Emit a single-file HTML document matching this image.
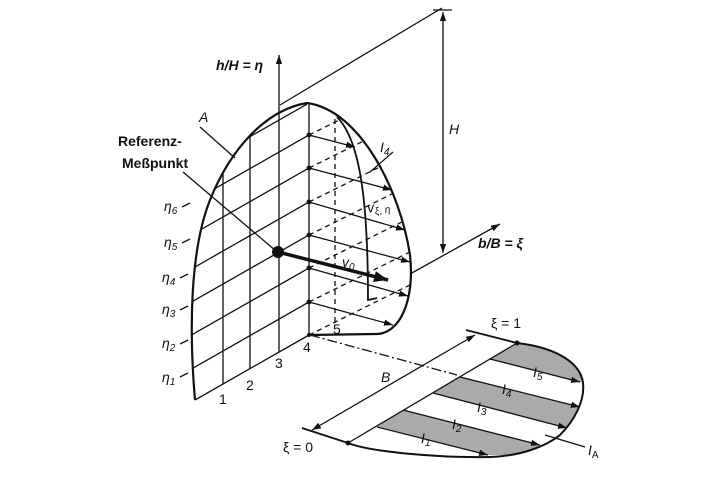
<!DOCTYPE html>
<html><head><meta charset="utf-8"><style>
html,body{margin:0;padding:0;background:#fff}
svg{display:block}
text{font-family:"Liberation Sans",sans-serif;font-size:14px;fill:#111}
.i{font-style:italic}
</style></head><body>
<svg width="720" height="480" viewBox="0 0 720 480">
<defs>
<clipPath id="L"><path d="M195,400 C189,330 190,250 210,200 C230,150 265,110 307,103 L309,335 Z"/></clipPath>
<clipPath id="R"><path d="M307,103 C360,110 400,190 410,255 C415,300 400,335 375,334 L309,335 Z"/></clipPath>
<clipPath id="B"><path d="M348,443 C370,452 440,458 490,457 C520,456 545,447 560,435 C575,420 585,400 583,383 C581,365 560,348 517,343 Z"/></clipPath>
<marker id="a" viewBox="0 0 10 10" refX="10" refY="5" markerWidth="9" markerHeight="9" orient="auto-start-reverse" markerUnits="userSpaceOnUse"><path d="M0,1.5 L10,5 L0,8.5 Z" fill="#111"/></marker>
<marker id="b" viewBox="0 0 10 10" refX="10" refY="5" markerWidth="14" markerHeight="14" orient="auto" markerUnits="userSpaceOnUse"><path d="M0,1 L10,5 L0,9 Z" fill="#111"/></marker>
</defs>
<g stroke="#111" fill="none" stroke-width="1.3">
<line x1="280" y1="105" x2="442" y2="8"/>
<line x1="433" y1="10" x2="452" y2="10"/>
<line x1="443" y1="12" x2="443" y2="253" marker-start="url(#a)" marker-end="url(#a)"/>
<line x1="410" y1="274" x2="500" y2="224" marker-end="url(#a)"/>
<line x1="279" y1="352" x2="279" y2="55" marker-end="url(#a)"/>
<g clip-path="url(#L)">
<line x1="180" y1="375.5" x2="309" y2="302"/>
<line x1="180" y1="341.5" x2="309" y2="268"/>
<line x1="180" y1="308.5" x2="309" y2="235"/>
<line x1="180" y1="275.5" x2="309" y2="202"/>
<line x1="180" y1="241.5" x2="309" y2="168"/>
<line x1="180" y1="208.5" x2="309" y2="135"/>
<line x1="180" y1="176.5" x2="309" y2="103"/>
<line x1="223" y1="100" x2="223" y2="385"/>
<line x1="250" y1="100" x2="250" y2="369"/>
</g>
<line x1="195" y1="400" x2="309" y2="335"/>
<line x1="309" y1="103" x2="309" y2="335"/>
<g clip-path="url(#R)" stroke-dasharray="5,4">
<line x1="309" y1="335" x2="420" y2="280"/>
<line x1="309" y1="302" x2="420" y2="247"/>
<line x1="309" y1="268" x2="420" y2="213"/>
<line x1="309" y1="235" x2="420" y2="180"/>
<line x1="309" y1="202" x2="420" y2="147"/>
<line x1="309" y1="168" x2="420" y2="113"/>
<line x1="309" y1="135" x2="420" y2="80"/>
<line x1="335" y1="110" x2="335" y2="322"/>
</g>
<path stroke-width="2.2" d="M195,400 C189,330 190,250 210,200 C230,150 265,110 307,103 C360,110 400,190 410,255 C415,300 400,335 375,334 L309,335"/>
<path stroke-width="1.8" d="M337,117 C360,140 368,200 368,300 L377,298"/>
<line x1="309" y1="135" x2="355" y2="147" marker-end="url(#a)"/>
<line x1="309" y1="168" x2="392" y2="190" marker-end="url(#a)"/>
<line x1="309" y1="202" x2="405" y2="230" marker-end="url(#a)"/>
<line x1="309" y1="235" x2="410" y2="262" marker-end="url(#a)"/>
<line x1="309" y1="268" x2="408" y2="296" marker-end="url(#a)"/>
<line x1="309" y1="302" x2="393" y2="325" marker-end="url(#a)"/>
<line x1="278" y1="252" x2="388" y2="280" stroke-width="3.5" marker-end="url(#b)"/>
<line x1="183" y1="172" x2="276" y2="251"/>
<line x1="200" y1="127" x2="235" y2="158"/>
<line x1="393" y1="152" x2="370" y2="172"/>
<line x1="182" y1="207" x2="190" y2="203"/><line x1="182" y1="243" x2="190" y2="239"/>
<line x1="180" y1="278" x2="188" y2="274"/><line x1="180" y1="310" x2="188" y2="306"/>
<line x1="180" y1="344" x2="188" y2="340"/><line x1="180" y1="377" x2="188" y2="373"/>
<line x1="310" y1="335" x2="457" y2="375" stroke-dasharray="10,3,2,3"/>
<g clip-path="url(#B)" fill="#aaa" stroke="none">
<path d="M517,343 L490,359 L580,382 L600,382 L600,330 Z"/>
<path d="M460,377 L433,393 L567,428 L600,428 L600,407 L580,407 Z"/>
<path d="M403,410 L377,427 L488,455 L560,455 L540,445 Z"/>
</g>
<line x1="312" y1="430" x2="475" y2="335" marker-start="url(#a)" marker-end="url(#a)"/>
<line x1="466" y1="330" x2="517" y2="343" stroke-width="1.8"/>
<line x1="302" y1="428" x2="348" y2="443" stroke-width="1.8"/>
<line x1="348" y1="443" x2="517" y2="343"/>
<path stroke-width="2" d="M348,443 C370,452 440,458 490,457 C520,456 545,447 560,435 C575,420 585,400 583,383 C581,365 560,348 517,343"/>
<line x1="490" y1="359" x2="580" y2="382" marker-end="url(#a)"/>
<line x1="460" y1="377" x2="580" y2="407" marker-end="url(#a)"/>
<line x1="433" y1="393" x2="567" y2="428" marker-end="url(#a)"/>
<line x1="403" y1="410" x2="540" y2="445" marker-end="url(#a)"/>
<line x1="377" y1="427" x2="488" y2="455" marker-end="url(#a)"/>
<line x1="545" y1="435" x2="585" y2="447"/>
</g>
<g fill="#111">
<circle cx="278" cy="252" r="6"/>
<circle cx="309" cy="135" r="2.5"/><circle cx="309" cy="168" r="2.5"/><circle cx="309" cy="202" r="2.5"/>
<circle cx="309" cy="235" r="2.5"/><circle cx="309" cy="268" r="2.5"/><circle cx="309" cy="302" r="2.5"/>
<circle cx="309" cy="335" r="2"/><circle cx="348" cy="443" r="2.5"/><circle cx="517" cy="343" r="2.5"/>
</g>
<text x="216" y="70" class="i" font-weight="bold">h/H = η</text>
<text x="199" y="122" class="i">A</text>
<text x="118" y="146" font-weight="bold">Referenz-</text>
<text x="122" y="168" font-weight="bold">Meßpunkt</text>
<text x="449" y="134" class="i">H</text>
<text x="478" y="248" class="i" font-weight="bold">b/B = ξ</text>
<text x="380" y="152" class="i">I<tspan font-size="10" dy="3">4</tspan></text>
<text x="368" y="213" class="i" transform="rotate(-10 368 213)">v<tspan font-size="10" dy="3">ξ, η</tspan></text>
<text x="342" y="267" class="i">v<tspan font-size="10" dy="3">0</tspan></text>
<g class="i"><text x="164" y="211">η<tspan font-size="10" dy="3">6</tspan></text>
<text x="164" y="247">η<tspan font-size="10" dy="3">5</tspan></text>
<text x="162" y="282">η<tspan font-size="10" dy="3">4</tspan></text>
<text x="162" y="314">η<tspan font-size="10" dy="3">3</tspan></text>
<text x="162" y="348">η<tspan font-size="10" dy="3">2</tspan></text>
<text x="162" y="382">η<tspan font-size="10" dy="3">1</tspan></text></g>
<text x="219" y="404">1</text><text x="246" y="390">2</text><text x="275" y="368">3</text>
<text x="303" y="352">4</text><text x="333" y="334">5</text>
<text x="491" y="328">ξ = 1</text>
<text x="283" y="452">ξ = 0</text>
<text x="381" y="382" class="i">B</text>
<g class="i"><text x="533" y="377">I<tspan font-size="10" dy="3">5</tspan></text>
<text x="502" y="394">I<tspan font-size="10" dy="3">4</tspan></text>
<text x="477" y="412">I<tspan font-size="10" dy="3">3</tspan></text>
<text x="452" y="429">I<tspan font-size="10" dy="3">2</tspan></text>
<text x="421" y="443">I<tspan font-size="10" dy="3">1</tspan></text>
<text x="588" y="455">I<tspan font-size="10" dy="3" font-style="normal">A</tspan></text></g>
</svg>
</body></html>
